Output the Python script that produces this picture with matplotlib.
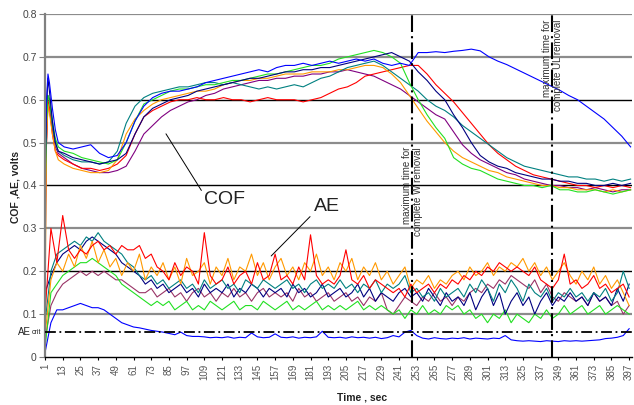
import numpy as np
import matplotlib
matplotlib.use("Agg")
import matplotlib.pyplot as plt

plt.rcParams['font.family'] = ['Liberation Sans', 'DejaVu Sans']

# time grid for the COF curves (s)
t_cof = [1, 2, 3, 4, 6, 8, 10] + list(range(14, 400, 6))

cof_blue = [0.45, 0.60, 0.66, 0.64, 0.58, 0.53, 0.50,
            0.49, 0.485, 0.49, 0.495, 0.475, 0.465, 0.47, 0.50, 0.55, 0.585, 0.605, 0.615, 0.62, 0.62, 0.625,
            0.63, 0.64, 0.645, 0.65, 0.655, 0.66, 0.665, 0.67, 0.665, 0.675, 0.68, 0.68, 0.685, 0.68, 0.685,
            0.69, 0.685, 0.69, 0.695, 0.69, 0.695, 0.685, 0.68, 0.685, 0.68, 0.71, 0.71, 0.712, 0.71, 0.713,
            0.715, 0.718, 0.714, 0.70, 0.69, 0.682, 0.672, 0.662, 0.652, 0.642, 0.632, 0.622, 0.61, 0.60,
            0.585, 0.57, 0.555, 0.535, 0.515, 0.49]
cof_navy = [0.40, 0.58, 0.65, 0.62, 0.55, 0.50, 0.48,
            0.475, 0.465, 0.46, 0.455, 0.45, 0.455, 0.46, 0.475, 0.52, 0.56, 0.58, 0.59, 0.60, 0.605, 0.61,
            0.62, 0.625, 0.63, 0.635, 0.64, 0.645, 0.65, 0.65, 0.655, 0.66, 0.665, 0.665, 0.67, 0.67, 0.675,
            0.675, 0.68, 0.685, 0.69, 0.695, 0.70, 0.705, 0.71, 0.70, 0.69, 0.665, 0.645, 0.62, 0.60, 0.565,
            0.535, 0.50, 0.47, 0.455, 0.445, 0.44, 0.43, 0.425, 0.42, 0.415, 0.415, 0.41, 0.41, 0.405,
            0.405, 0.40, 0.40, 0.405, 0.40, 0.405]
cof_green = [0.35, 0.55, 0.61, 0.60, 0.55, 0.51, 0.49,
             0.48, 0.475, 0.465, 0.46, 0.455, 0.45, 0.46, 0.50, 0.55, 0.59, 0.60, 0.61, 0.62, 0.625, 0.625,
             0.63, 0.635, 0.635, 0.64, 0.645, 0.645, 0.65, 0.655, 0.66, 0.66, 0.665, 0.67, 0.675, 0.68, 0.68,
             0.685, 0.695, 0.70, 0.705, 0.71, 0.715, 0.71, 0.70, 0.685, 0.64, 0.60, 0.565, 0.535, 0.51, 0.465,
             0.45, 0.44, 0.435, 0.425, 0.415, 0.41, 0.405, 0.40, 0.40, 0.395, 0.40, 0.39, 0.39, 0.385,
             0.385, 0.39, 0.385, 0.38, 0.385, 0.39]
cof_teal = [0.38, 0.56, 0.61, 0.60, 0.54, 0.50, 0.48,
            0.47, 0.46, 0.455, 0.455, 0.45, 0.455, 0.48, 0.545, 0.585, 0.605, 0.615, 0.62, 0.625, 0.63, 0.63,
            0.635, 0.64, 0.64, 0.635, 0.64, 0.635, 0.63, 0.625, 0.63, 0.625, 0.63, 0.635, 0.63, 0.64, 0.65,
            0.655, 0.665, 0.675, 0.68, 0.685, 0.69, 0.68, 0.665, 0.65, 0.635, 0.62, 0.60, 0.585, 0.575, 0.56,
            0.54, 0.525, 0.51, 0.495, 0.48, 0.465, 0.455, 0.445, 0.44, 0.435, 0.43, 0.425, 0.42, 0.42,
            0.415, 0.415, 0.41, 0.415, 0.41, 0.415]
cof_orange = [0.10, 0.50, 0.59, 0.57, 0.52, 0.48, 0.46,
              0.45, 0.44, 0.435, 0.43, 0.43, 0.435, 0.46, 0.52, 0.555, 0.575, 0.59, 0.60, 0.605, 0.61, 0.615,
              0.62, 0.62, 0.625, 0.635, 0.64, 0.645, 0.645, 0.65, 0.65, 0.655, 0.66, 0.66, 0.66, 0.665, 0.665,
              0.665, 0.67, 0.67, 0.675, 0.68, 0.68, 0.675, 0.66, 0.64, 0.61, 0.58, 0.55, 0.525, 0.50, 0.48,
              0.465, 0.455, 0.445, 0.435, 0.43, 0.42, 0.415, 0.41, 0.405, 0.40, 0.40, 0.395, 0.395, 0.39,
              0.39, 0.39, 0.385, 0.39, 0.385, 0.39]
cof_red = [0.30, 0.50, 0.60, 0.58, 0.52, 0.48, 0.47,
           0.46, 0.45, 0.44, 0.44, 0.435, 0.44, 0.45, 0.47, 0.52, 0.56, 0.575, 0.585, 0.595, 0.60, 0.60,
           0.605, 0.60, 0.60, 0.605, 0.60, 0.60, 0.595, 0.60, 0.605, 0.60, 0.60, 0.60, 0.595, 0.60, 0.605,
           0.615, 0.625, 0.63, 0.64, 0.655, 0.66, 0.665, 0.67, 0.675, 0.68, 0.68, 0.66, 0.635, 0.615, 0.595,
           0.57, 0.545, 0.52, 0.495, 0.475, 0.46, 0.445, 0.435, 0.425, 0.42, 0.415, 0.41, 0.405, 0.40,
           0.40, 0.395, 0.40, 0.395, 0.40, 0.395]
cof_purple = [0.20, 0.50, 0.59, 0.58, 0.53, 0.49, 0.475,
              0.465, 0.45, 0.44, 0.435, 0.43, 0.43, 0.435, 0.445, 0.48, 0.52, 0.54, 0.56, 0.575, 0.585, 0.595,
              0.60, 0.61, 0.615, 0.625, 0.63, 0.635, 0.64, 0.645, 0.645, 0.65, 0.65, 0.655, 0.655, 0.66, 0.66,
              0.665, 0.665, 0.67, 0.665, 0.66, 0.655, 0.645, 0.635, 0.625, 0.61, 0.595, 0.58, 0.565, 0.555,
              0.525, 0.495, 0.475, 0.46, 0.45, 0.44, 0.43, 0.425, 0.415, 0.41, 0.405, 0.40, 0.40, 0.395,
              0.395, 0.39, 0.395, 0.39, 0.385, 0.39, 0.39]

# time grid for the AE curves (s)
t_ae = list(range(1, 400, 4))

ae_blue = [0.01, 0.08, 0.11, 0.11, 0.115, 0.12, 0.125, 0.12, 0.115, 0.115,
           0.11, 0.10, 0.09, 0.08, 0.075, 0.07, 0.068, 0.065, 0.062, 0.06,
           0.058, 0.055, 0.052, 0.058, 0.05, 0.048, 0.048, 0.047, 0.045, 0.046,
           0.045, 0.047, 0.044, 0.046, 0.045, 0.056, 0.047, 0.045, 0.046, 0.054,
           0.046, 0.045, 0.047, 0.044, 0.046, 0.045, 0.047, 0.06, 0.046, 0.045,
           0.046, 0.044, 0.047, 0.045, 0.046, 0.044, 0.046, 0.043, 0.045, 0.05,
           0.047, 0.058, 0.062, 0.05, 0.044, 0.042, 0.045, 0.043, 0.042, 0.044,
           0.043, 0.045, 0.042, 0.044, 0.043, 0.042, 0.044, 0.043, 0.05, 0.04,
           0.038, 0.037, 0.038, 0.037, 0.036, 0.038, 0.037, 0.036, 0.038, 0.037,
           0.038, 0.037, 0.038, 0.039, 0.04, 0.043, 0.044, 0.046, 0.05, 0.066]
ae_red = [0.10, 0.30, 0.22, 0.33, 0.25, 0.23, 0.25, 0.24, 0.26, 0.27,
          0.25, 0.26, 0.24, 0.26, 0.25, 0.25, 0.26, 0.23, 0.24, 0.21,
          0.20, 0.18, 0.22, 0.19, 0.21, 0.20, 0.17, 0.29, 0.19, 0.17,
          0.18, 0.21, 0.17, 0.19, 0.20, 0.17, 0.22, 0.18, 0.19, 0.24,
          0.18, 0.19, 0.17, 0.21, 0.18, 0.285, 0.19, 0.17, 0.18, 0.17,
          0.19, 0.25, 0.18, 0.17, 0.19, 0.16, 0.18, 0.17, 0.16, 0.15,
          0.16, 0.14, 0.17, 0.15, 0.16, 0.17, 0.15, 0.17, 0.16, 0.18,
          0.17, 0.19, 0.18, 0.20, 0.19, 0.21, 0.20, 0.22, 0.21, 0.20,
          0.21, 0.20, 0.19, 0.21, 0.18, 0.17, 0.16, 0.18, 0.24, 0.17,
          0.18, 0.16, 0.17, 0.19, 0.16, 0.17, 0.15, 0.16, 0.17, 0.14]
ae_orange = [0.05, 0.18, 0.22, 0.20, 0.24, 0.21, 0.26, 0.23, 0.27, 0.22,
             0.25, 0.21, 0.23, 0.19, 0.22, 0.20, 0.24, 0.18, 0.21, 0.19,
             0.22, 0.18, 0.21, 0.17, 0.23, 0.19, 0.20, 0.22, 0.17, 0.21,
             0.19, 0.23, 0.18, 0.21, 0.20, 0.24, 0.19, 0.22, 0.18, 0.21,
             0.23, 0.19, 0.21, 0.18, 0.22, 0.20, 0.24, 0.19, 0.21, 0.18,
             0.22, 0.20, 0.23, 0.18, 0.21, 0.19, 0.22, 0.18, 0.20, 0.17,
             0.19, 0.21, 0.16, 0.18, 0.17, 0.19, 0.16, 0.18, 0.17, 0.19,
             0.20, 0.18, 0.21, 0.19, 0.20, 0.22, 0.19, 0.21, 0.20, 0.22,
             0.21, 0.23, 0.20, 0.22, 0.19, 0.21, 0.18, 0.20, 0.22, 0.19,
             0.17, 0.20, 0.18, 0.21, 0.17, 0.19, 0.16, 0.18, 0.15, 0.12]
ae_teal = [0.08, 0.20, 0.24, 0.25, 0.26, 0.27, 0.26, 0.28, 0.27, 0.29,
           0.27, 0.26, 0.25, 0.24, 0.22, 0.21, 0.19, 0.18, 0.19, 0.17,
           0.18, 0.16, 0.17, 0.18, 0.16, 0.17, 0.15, 0.18, 0.16, 0.17,
           0.18, 0.16, 0.17, 0.15, 0.18, 0.17, 0.16, 0.18, 0.17, 0.16,
           0.17, 0.18, 0.16, 0.17, 0.15, 0.17, 0.18, 0.16, 0.17, 0.16,
           0.18, 0.16, 0.17, 0.15, 0.17, 0.16, 0.18, 0.15, 0.17, 0.16,
           0.17, 0.19, 0.15, 0.16, 0.14, 0.15, 0.13, 0.16, 0.14, 0.15,
           0.16, 0.14, 0.17, 0.15, 0.18, 0.16, 0.13, 0.17, 0.15, 0.18,
           0.16, 0.13, 0.17, 0.15, 0.14, 0.16, 0.13, 0.15, 0.14, 0.16,
           0.14, 0.15, 0.13, 0.15, 0.14, 0.16, 0.13, 0.15, 0.20, 0.16]
ae_navy = [0.15, 0.19, 0.22, 0.24, 0.25, 0.26, 0.25, 0.27, 0.28, 0.27,
           0.26, 0.25, 0.24, 0.22, 0.21, 0.20, 0.19, 0.17, 0.18, 0.16,
           0.17, 0.15, 0.16, 0.17, 0.15, 0.16, 0.14, 0.17, 0.15, 0.16,
           0.15, 0.17, 0.14, 0.16, 0.15, 0.17, 0.16, 0.14, 0.16, 0.15,
           0.16, 0.14, 0.17, 0.15, 0.16, 0.14, 0.15, 0.17, 0.14, 0.15,
           0.16, 0.14, 0.15, 0.17, 0.14, 0.16, 0.13, 0.15, 0.14, 0.13,
           0.15, 0.16, 0.14, 0.15, 0.13, 0.16, 0.14, 0.12, 0.15, 0.13,
           0.14, 0.12, 0.15, 0.11, 0.14, 0.16, 0.12, 0.15, 0.10, 0.13,
           0.15, 0.12, 0.14, 0.10, 0.13, 0.15, 0.12, 0.14, 0.13, 0.15,
           0.13, 0.14, 0.12, 0.15, 0.13, 0.14, 0.12, 0.16, 0.13, 0.17]
ae_green = [0.02, 0.15, 0.17, 0.19, 0.20, 0.21, 0.22, 0.22, 0.23, 0.22,
            0.21, 0.20, 0.19, 0.17, 0.16, 0.15, 0.14, 0.13, 0.12, 0.13,
            0.12, 0.13, 0.11, 0.12, 0.13, 0.11, 0.12, 0.11, 0.13, 0.12,
            0.11, 0.12, 0.13, 0.11, 0.12, 0.12, 0.11, 0.13, 0.12, 0.11,
            0.12, 0.13, 0.11, 0.12, 0.11, 0.12, 0.13, 0.11, 0.12, 0.11,
            0.12, 0.11, 0.12, 0.13, 0.11, 0.12, 0.11, 0.12, 0.11, 0.10,
            0.11, 0.09, 0.11, 0.10, 0.12, 0.10, 0.11, 0.10, 0.12, 0.11,
            0.12, 0.10, 0.11, 0.09, 0.10, 0.08, 0.10, 0.09, 0.11, 0.08,
            0.10, 0.09, 0.08, 0.10, 0.09, 0.11, 0.09, 0.10, 0.12, 0.10,
            0.11, 0.12, 0.10, 0.11, 0.12, 0.10, 0.11, 0.12, 0.11, 0.10]
ae_mauve = [0.04, 0.12, 0.15, 0.17, 0.18, 0.19, 0.20, 0.19, 0.20, 0.19,
            0.20, 0.19, 0.18, 0.18, 0.17, 0.16, 0.15, 0.15, 0.16, 0.14,
            0.15, 0.16, 0.14, 0.15, 0.13, 0.15, 0.16, 0.14, 0.15, 0.13,
            0.15, 0.14, 0.16, 0.14, 0.15, 0.13, 0.15, 0.16, 0.14, 0.15,
            0.14, 0.15, 0.13, 0.16, 0.14, 0.15, 0.13, 0.14, 0.15, 0.13,
            0.14, 0.15, 0.13, 0.14, 0.12, 0.14, 0.13, 0.15, 0.11, 0.10,
            0.12, 0.14, 0.13, 0.12, 0.14, 0.13, 0.15, 0.13, 0.14, 0.12,
            0.14, 0.13, 0.15, 0.16, 0.15, 0.17, 0.16, 0.18, 0.17, 0.19,
            0.18, 0.17, 0.16, 0.18, 0.15, 0.17, 0.14, 0.13, 0.15, 0.14,
            0.13, 0.14, 0.12, 0.15, 0.13, 0.14, 0.12, 0.13, 0.10, 0.12]

ae_crit = 0.058
t_w_removal = 250
t_ul_removal = 345
tick_labels = list(range(1, 400, 12))

fig = plt.figure(figsize=(6.34, 4.05), dpi=100)
ax = fig.add_axes([0.071, 0.1185, 0.926, 0.847])

# horizontal grid, grey and black lines alternating like the original
for y, c, lw in [(0.1, '#8c8c8c', 1.6), (0.2, 'black', 1.0), (0.3, '#8c8c8c', 1.6),
                 (0.4, 'black', 1.0), (0.5, '#8c8c8c', 1.6), (0.6, 'black', 1.0),
                 (0.7, '#8c8c8c', 1.6), (0.8, '#8c8c8c', 1.6)]:
    ax.axhline(y, color=c, lw=lw, zorder=1)

ae_series = [(ae_mauve, '#993366'), (ae_green, '#22e022'), (ae_navy, '#000080'),
             (ae_teal, '#008080'), (ae_orange, '#ff9900'), (ae_red, '#ff0000'),
             (ae_blue, '#0000ff')]
for vals, col in ae_series:
    ax.plot(t_ae, vals, color=col, lw=0.8, zorder=2)

cof_series = [(cof_purple, '#800080'), (cof_red, '#ff0000'), (cof_orange, '#ff9900'),
              (cof_teal, '#008080'), (cof_green, '#22e022'), (cof_navy, '#000080'),
              (cof_blue, '#0000ff')]
for vals, col in cof_series:
    ax.plot(t_cof, vals, color=col, lw=0.8, zorder=2)

ax.axhline(ae_crit, color='black', lw=1.3, ls=(0, (6, 2, 1, 2)), zorder=3)
ax.axvline(t_w_removal, color='black', lw=1.5, ls=(0, (8, 2, 1, 2)), zorder=3)
ax.axvline(t_ul_removal, color='black', lw=1.5, ls=(0, (8, 2, 1, 2)), zorder=3)

ax.text(t_w_removal, 0.49, "maximum time for\ncomplete W removal", rotation=90,
        ha='center', va='top', multialignment='right', fontsize=7, color='#333333', zorder=4)
ax.text(t_ul_removal, 0.787, "maximum time for\ncomplete UL removal", rotation=90,
        ha='center', va='top', multialignment='right', fontsize=7, color='#333333', zorder=4)

ax.annotate("", xy=(82, 0.526), xytext=(108, 0.383),
            arrowprops=dict(arrowstyle='-', color='black', lw=0.7))
ax.text(123, 0.367, "COF", fontsize=14, ha='center', va='center', color='#222222')
ax.annotate("", xy=(153, 0.231), xytext=(182, 0.332),
            arrowprops=dict(arrowstyle='-', color='black', lw=0.7))
ax.text(192, 0.35, "AE", fontsize=14, ha='center', va='center', color='#222222')

ax.set_xlim(1, 399)
ax.set_ylim(0, 0.8)
ax.set_xticks(tick_labels)
ax.set_xticklabels([str(v) for v in tick_labels], rotation=90, fontsize=7, color='#555555')
ax.set_yticks([0, 0.1, 0.2, 0.3, 0.4, 0.5, 0.6, 0.7, 0.8])
ax.set_yticklabels(['0', '0.1', '0.2', '0.3', '0.4', '0.5', '0.6', '0.7', '0.8'],
                   fontsize=7.5, color='#444444')
ax.tick_params(axis='x', length=2, pad=3, color='black')
ax.tick_params(axis='y', length=4, pad=2, color='#808080')

for s in ['top', 'right']:
    ax.spines[s].set_visible(False)
ax.spines['left'].set_color('#808080')
ax.spines['left'].set_linewidth(1.6)
ax.spines['bottom'].set_color('black')
ax.spines['bottom'].set_linewidth(1.0)

fig.text(16 / 634, 1 - 187 / 405, "COF ,AE, volts", rotation=90, ha='center', va='center',
         fontsize=7.5, fontweight='bold', color='#222222')
fig.text(362 / 634, 1 - 398 / 405, "Time , sec", ha='center', va='center',
         fontsize=7.5, fontweight='bold', color='#222222')
fig.text(18 / 634, 1 - 332 / 405, "AE", ha='left', va='center', fontsize=7, color='#222222')
fig.text(32 / 634, 1 - 333 / 405, "crit", ha='left', va='center', fontsize=5, color='#222222')

fig.savefig("out.png", dpi=100)
